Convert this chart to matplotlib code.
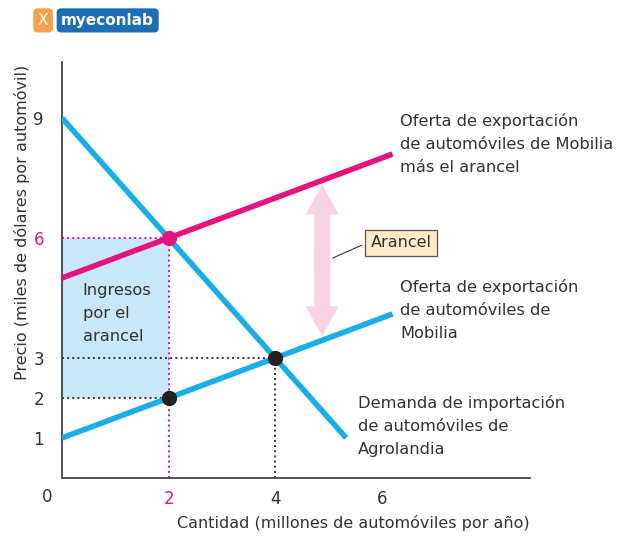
import matplotlib.pyplot as plt
import matplotlib.patches as mpatches
import numpy as np

# datos
q_dem = [0.0, 5.33]
p_dem = [9.0, 1.0]
q_sup = [0.0, 6.2]
p_sup = [1.0, 4.1]
arancel = 4.0
p_sup_ar = [p + arancel for p in p_sup]

q_imp, p_imp = 2, 6      # importación con arancel
q_exp, p_exp = 2, 2      # precio recibido por Mobilia
q_libre, p_libre = 4, 3  # libre comercio

x_ticks = [2, 4, 6]
y_ticks = [1, 2, 3, 6, 9]

azul = '#1aaee8'
magenta = '#e6137f'
gris = '#333333'

fig = plt.figure(figsize=(6.25, 5.37), dpi=100)
ax = fig.add_axes([0.0992, 0.110, 0.749, 0.7745])
ax.set_xlim(0, 8.78)
ax.set_ylim(0, 10.4)

# área de ingresos por el arancel
ax.fill_between([0, q_imp], p_exp, p_imp, color='#c8e8f8', lw=0, zorder=1)

# líneas de referencia punteadas
ax.plot([0, q_libre], [p_libre, p_libre], ':', color=gris, lw=1.4, zorder=2)
ax.plot([q_libre, q_libre], [0, p_libre], ':', color=gris, lw=1.4, zorder=2)
ax.plot([0, q_exp], [p_exp, p_exp], ':', color=gris, lw=1.4, zorder=2)
ax.plot([0, q_imp], [p_imp, p_imp], ':', color=magenta, lw=1.4, zorder=2)
ax.plot([q_imp, q_imp], [0, p_imp], ':', color=magenta, lw=1.4, zorder=2)

# curvas
ax.plot(q_dem, p_dem, color=azul, lw=4, solid_capstyle='butt', zorder=3)
ax.plot(q_sup, p_sup, color=azul, lw=4, solid_capstyle='butt', zorder=3)
ax.plot(q_sup, p_sup_ar, color=magenta, lw=4, solid_capstyle='butt', zorder=3)

# puntos
ax.plot(q_imp, p_imp, 'o', color=magenta, ms=10, zorder=5)
ax.plot(q_exp, p_exp, 'o', color='#222222', ms=10, zorder=5)
ax.plot(q_libre, p_libre, 'o', color='#222222', ms=10, zorder=5)

# flecha doble del arancel
qa = 4.88
lo = np.interp(qa, q_sup, p_sup) + 0.1
hi = np.interp(qa, q_sup, p_sup_ar) - 0.1
mid = (lo + hi) / 2
for y0, y1 in ((mid - 0.3, hi), (mid + 0.3, lo)):
    ax.add_patch(mpatches.FancyArrow(qa, y0, 0, y1 - y0, width=0.3, head_width=0.62,
                                     head_length=0.75, length_includes_head=True,
                                     color='#f7d3e4', lw=0, zorder=2))
ax.plot([qa + 0.2, 5.62], [5.5, 5.82], color=gris, lw=0.8, zorder=4)
ax.text(6.36, 5.88, 'Arancel', ha='center', va='center', fontsize=11.5, color=gris,
        bbox=dict(boxstyle='square,pad=0.35', fc='#fdebc8', ec='#555555', lw=0.9), zorder=6)

# etiquetas de curvas
kw = dict(fontsize=11.7, color=gris, va='top', ha='left', linespacing=1.65)
ax.text(6.34, 9.12, 'Oferta de exportación\nde automóviles de Mobilia\nmás el arancel', **kw)
ax.text(6.34, 4.97, 'Oferta de exportación\nde automóviles de\nMobilia', **kw)
ax.text(5.55, 2.07, 'Demanda de importación\nde automóviles de\nAgrolandia', **kw)
ax.text(0.39, 4.87, 'Ingresos\npor el\narancel', **kw)

# ejes
for s in ['top', 'right']:
    ax.spines[s].set_visible(False)
for s in ['left', 'bottom']:
    ax.spines[s].set_color('#444444')
    ax.spines[s].set_linewidth(1.3)
ax.set_xticks(x_ticks)
ax.set_yticks(y_ticks)
ax.set_xticks([6], minor=True)
ax.tick_params(which='major', length=0, labelsize=12, labelcolor=gris)
ax.tick_params(axis='x', which='major', pad=9)
ax.tick_params(axis='y', which='major', pad=13)
ax.tick_params(axis='x', which='minor', direction='in', length=6, width=1.2, color='#444444')
ax.get_xticklabels()[0].set_color(magenta)
ax.get_yticklabels()[3].set_color(magenta)
ax.text(-0.28, -0.25, '0', ha='center', va='top', fontsize=12, color=gris)

fig.text(0.035, 0.585, 'Precio (miles de dólares por automóvil)', rotation=90,
         ha='center', va='center', fontsize=11.5, color=gris)
fig.text(0.848, 0.026, 'Cantidad (millones de automóviles por año)', ha='right',
         va='center', fontsize=11.5, color=gris)

# logo
fig.text(0.069, 0.962, 'X', ha='center', va='center', fontsize=11, color='white',
         bbox=dict(boxstyle='round,pad=0.3', fc='#f5a04a', ec='none'))
fig.text(0.098, 0.962, 'myeconlab', ha='left', va='center', fontsize=11, color='white',
         fontweight='bold', bbox=dict(boxstyle='round,pad=0.3', fc='#1c6fb5', ec='none'))

fig.savefig('out.png', dpi=100)
